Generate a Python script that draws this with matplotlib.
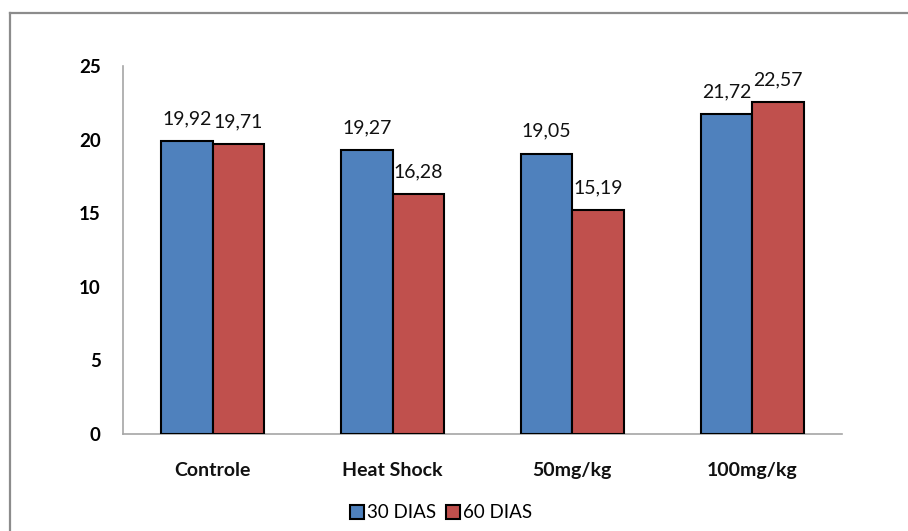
import matplotlib
matplotlib.use("Agg")
import matplotlib.pyplot as plt
from matplotlib.lines import Line2D
from matplotlib.patches import Patch
import numpy as np

categories = ["Controle", "Heat Shock", "50mg/kg", "100mg/kg"]
series_names = ["30 DIAS", "60 DIAS"]
vals_30 = [19.92, 19.27, 19.05, 21.72]
vals_60 = [19.71, 16.28, 15.19, 22.57]
labels_30 = ["19,92", "19,27", "19,05", "21,72"]
labels_60 = ["19,71", "16,28", "15,19", "22,57"]
yticks = [0, 5, 10, 15, 20, 25]

plt.rcParams['font.family'] = ['Lato', 'DejaVu Sans']

fig = plt.figure(figsize=(9.08, 5.31), dpi=100)
ax = fig.add_axes([123/908, 1-434/531, (842-123)/908, (434-66)/531])

x = np.arange(len(categories))
w = 0.2865
c1 = "#4F81BD"
c2 = "#C0504D"
ax.bar(x - w/2, vals_30, w, color=c1, edgecolor="black", linewidth=1.5, zorder=3)
ax.bar(x + w/2, vals_60, w, color=c2, edgecolor="black", linewidth=1.5, zorder=3)

for xi, v, lab in zip(x - w/2, vals_30, labels_30):
    ax.annotate(lab, (xi, v), xytext=(0, 16), textcoords="offset points",
                ha="center", va="center", fontsize=14, color="#111111")
for xi, v, lab in zip(x + w/2, vals_60, labels_60):
    ax.annotate(lab, (xi, v), xytext=(0, 16), textcoords="offset points",
                ha="center", va="center", fontsize=14, color="#111111")

ax.set_xlim(-0.5, len(categories) - 0.5)
ax.set_ylim(0, 25)
ax.set_yticks(yticks)
ax.set_yticklabels([str(t) for t in yticks], fontsize=13.5, fontweight="bold")
ax.set_xticks(x)
ax.set_xticklabels(categories, fontsize=14, fontweight="bold", color="#111111")
ax.tick_params(axis="y", length=0, pad=16)
ax.tick_params(axis="x", length=0, pad=20)
for s in ["top", "right"]:
    ax.spines[s].set_visible(False)
for s in ["left", "bottom"]:
    ax.spines[s].set_color("#A6A6A6")
    ax.spines[s].set_linewidth(1.2)

handles = [Patch(facecolor=c1, edgecolor="black", linewidth=1.5),
           Patch(facecolor=c2, edgecolor="black", linewidth=1.5)]
fig.legend(handles, series_names, loc="center", bbox_to_anchor=(441/908, 1-513/531),
           ncol=2, frameon=False, fontsize=13.5, handlelength=0.75, handleheight=0.75,
           handletextpad=0.15, columnspacing=0.5, borderpad=0)

# outer chart frame (right and bottom edges cropped)
fig.add_artist(Line2D([9.5/908, 9.5/908], [0, 1-13/531], transform=fig.transFigure,
                      color="#8C8C8C", linewidth=1.6))
fig.add_artist(Line2D([9.5/908, 1], [1-13/531, 1-13/531], transform=fig.transFigure,
                      color="#8C8C8C", linewidth=1.6))

fig.savefig("out.png", dpi=100)
